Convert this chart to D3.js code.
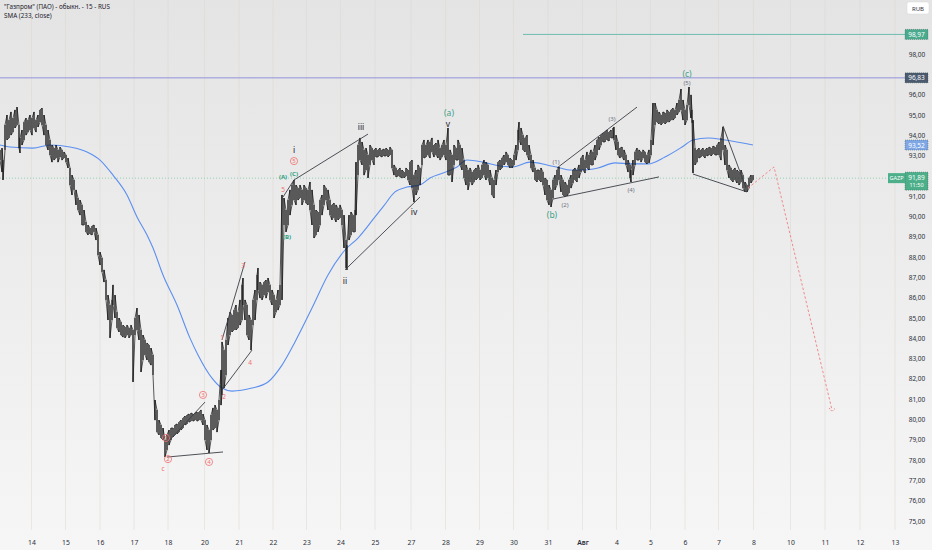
<!DOCTYPE html>
<html><head><meta charset="utf-8">
<script src="https://cdn.jsdelivr.net/npm/d3@7"></script>
<style>
html,body{margin:0;padding:0;overflow:hidden;background:#eeeeee}
svg{display:block;font-family:"Noto Sans",Roboto,"DejaVu Sans",sans-serif}
</style>
</head><body>
<svg id="chart" width="932" height="550"></svg>
<script>
// ---------- DATA ----------
const titleText = "\"Газпром\" (ПАО) - обыкн. - 15 - RUS";
const indicatorText = "SMA (233, close)";
const ticker = "GAZP";
const currency = "RUB";

// day session starts (15-min bar index) and their labels
const dayTicks  = [63,131,200,268,336,409,478,546,613,681,750,822,891,959,1027,1096,1165,1233,1301,1370,1437,1507,1581,1650,1720,1790];
const dayLabels = ["14","15","16","17","18","20","21","22","23","24","25","27","28","29","30","31","Авг","4","5","6","7","8","10","11","12","13"];
const priceTicks = [75,76,77,78,79,80,81,82,83,84,85,86,87,88,89,90,91,92,93,94,95,96,97,98,99,100];

// price bars: [bar index, high, low]
const priceBars = [
[0,93.28,92.78],[4,93.37,92.19],[6,92.78,91.80],[10,94.51,93.28],[14,95.00,93.77],[18,94.75,93.87],[22,95.15,94.01],[26,94.85,94.16],[30,95.25,94.36],[34,95.39,94.51],
[38,94.51,93.37],[40,93.87,93.13],[44,94.26,93.52],[48,94.65,93.77],[52,94.85,94.01],[56,94.75,94.16],[60,95.00,94.26],[64,94.85,94.01],[68,95.15,94.36],[72,94.75,94.16],
[76,95.00,94.41],[80,95.25,94.65],[84,95.34,94.51],[88,95.00,94.01],[92,94.51,93.52],[96,94.26,93.28],[100,93.77,93.03],[104,93.52,92.68],[108,93.37,92.78],[112,93.52,92.88],
[116,93.28,92.68],[120,93.42,92.93],[124,93.28,92.78],[128,93.18,92.88],[132,93.03,92.68],[136,92.88,92.39],[140,92.39,91.55],[144,92.04,91.06],[148,91.80,91.31],[152,91.31,90.57],
[156,90.91,90.32],[160,90.81,90.07],[164,90.57,89.58],[168,90.32,89.58],[172,89.73,89.24],[176,89.58,89.09],[180,89.43,89.14],[184,89.53,89.09],[188,89.58,89.24],[192,89.43,88.84],
[196,89.09,88.10],[200,88.25,87.61],[204,87.96,87.27],[208,87.37,86.77],[212,86.87,85.89],[216,86.13,84.90],[220,85.64,84.02],[224,85.89,84.90],[226,86.63,85.64],[230,86.13,85.00],
[234,85.29,84.51],[238,85.00,84.31],[242,84.80,84.16],[246,84.65,84.06],[250,84.56,84.02],[254,84.65,84.16],[258,84.51,84.02],[262,84.65,84.16],[266,84.41,81.85],[270,85.00,84.16],
[274,85.49,84.41],[278,85.15,83.92],[282,84.41,82.34],[286,84.16,82.93],[290,83.92,83.18],[294,83.77,82.93],[298,83.67,82.83],[302,83.52,82.68],[306,83.18,82.19],[310,80.96,79.97],
[314,80.47,79.38],[318,79.97,79.24],[322,79.73,79.09],[326,79.58,78.99],[330,78.99,78.15],[334,79.24,78.50],[338,79.48,78.74],[342,79.58,78.99],[346,79.58,79.14],[350,79.73,79.24],
[354,79.78,79.29],[358,79.87,79.38],[362,79.97,79.48],[366,80.07,79.58],[370,80.17,79.73],[374,80.22,79.78],[378,80.27,79.87],[382,80.32,79.92],[386,80.27,79.92],[390,80.32,79.97],
[394,80.37,79.92],[398,80.37,79.97],[402,80.47,79.97],[406,80.27,79.73],[410,79.97,78.99],[414,79.73,78.50],[418,79.48,78.35],[422,80.22,78.99],[426,80.57,79.48],[430,80.71,79.58],
[434,80.47,79.38],[438,80.96,79.97],[442,82.44,80.71],[444,83.82,81.21],[448,83.42,81.55],[452,83.92,82.19],[456,85.00,83.67],[460,85.29,84.16],[464,85.15,84.31],[468,85.39,84.41],
[472,85.64,84.41],[476,85.29,84.51],[480,85.89,84.65],[484,86.63,84.90],[486,86.97,85.64],[490,85.89,84.90],[494,85.64,84.16],[498,85.15,83.92],[502,84.90,83.42],[506,85.89,84.65],
[510,86.38,84.90],[514,87.12,85.89],[516,87.46,86.38],[520,86.77,85.98],[524,86.63,85.89],[528,86.77,86.13],[532,86.87,85.98],[536,86.97,86.28],[540,86.63,85.89],[544,86.38,85.64],
[548,86.13,85.00],[552,85.89,85.29],[556,86.38,85.39],[560,86.63,85.64],[564,91.06,85.89],[568,90.91,89.58],[572,90.32,89.24],[576,90.81,89.58],[580,91.31,90.07],[584,91.55,90.57],
[588,91.80,90.81],[592,91.55,90.57],[596,91.40,90.81],[600,91.55,90.91],[604,91.31,90.57],[608,91.55,90.81],[612,91.40,90.66],[616,91.31,90.57],[620,91.70,90.32],[624,91.31,89.58],
[628,90.57,88.94],[632,90.32,89.09],[636,90.22,89.24],[640,90.81,89.58],[644,91.06,90.07],[648,91.55,90.57],[652,91.40,90.81],[656,91.31,90.32],[660,90.81,90.07],[664,90.57,89.83],
[668,90.66,89.93],[672,90.57,89.73],[676,90.42,89.83],[680,90.57,89.93],[684,90.32,89.58],[688,90.07,88.45],[692,88.84,87.46],[694,88.60,87.37],[698,90.07,88.84],[702,90.22,89.09],
[706,90.07,89.24],[710,90.32,89.24],[712,92.68,90.07],[716,93.52,92.04],[720,93.87,92.78],[724,93.67,92.54],[728,93.28,92.04],[732,93.37,92.29],[736,93.03,91.90],[740,93.52,92.54],
[744,93.37,92.78],[748,93.28,92.54],[752,93.37,92.93],[756,93.28,92.93],[760,93.37,92.98],[764,93.28,92.93],[768,93.32,92.98],[772,93.37,92.98],[776,93.28,92.93],[780,93.42,93.03],
[784,93.28,92.39],[788,92.54,92.04],[792,92.39,91.95],[796,92.29,91.99],[800,92.39,91.95],[804,92.29,91.90],[808,92.19,91.90],[812,92.39,91.99],[816,92.29,91.80],[820,92.68,91.55],
[824,92.78,91.40],[828,92.04,90.71],[832,92.29,91.06],[836,92.54,91.31],[840,92.39,91.55],[844,93.52,92.54],[848,93.77,92.88],[852,93.52,92.93],[856,93.77,93.03],[860,93.67,92.88],
[864,93.87,93.18],[868,93.52,92.93],[872,93.62,93.03],[876,93.77,92.88],[880,93.37,92.78],[884,93.52,92.93],[888,93.77,93.03],[892,93.52,92.78],[896,94.36,92.04],[900,93.28,92.04],
[904,93.03,91.70],[908,93.52,92.54],[912,93.37,92.78],[916,93.77,92.78],[920,93.52,92.54],[924,93.37,92.29],[928,92.78,91.90],[932,92.54,91.55],[936,92.29,91.31],[940,92.39,91.70],
[944,92.19,91.55],[948,92.29,91.70],[952,92.39,91.80],[956,92.54,91.90],[960,92.29,91.80],[964,92.54,91.90],[968,92.78,92.04],[972,92.68,91.80],[976,92.54,91.90],[980,92.29,91.55],
[984,91.90,91.06],[988,91.80,90.91],[992,92.29,91.55],[996,92.68,92.19],[1000,92.78,92.29],[1004,92.88,92.39],[1008,93.03,92.54],[1012,93.18,92.68],[1016,93.03,92.54],[1020,92.88,92.39],
[1024,92.78,92.39],[1028,93.03,92.54],[1032,93.52,92.78],[1036,94.26,93.28],[1038,94.65,93.77],[1042,94.36,93.52],[1046,94.01,93.28],[1050,93.87,93.18],[1054,94.01,93.03],[1058,93.52,92.78],
[1062,93.03,92.39],[1066,92.78,92.19],[1070,92.39,91.80],[1074,92.29,91.70],[1078,92.29,91.80],[1082,92.39,91.70],[1086,92.19,91.55],[1090,91.90,91.06],[1094,91.80,90.81],[1098,91.55,90.57],
[1102,91.31,90.47],[1106,91.80,90.91],[1110,92.04,91.31],[1114,92.29,91.55],[1118,92.44,91.80],[1122,92.04,91.21],[1126,91.80,91.06],[1130,91.70,90.96],[1134,91.55,91.01],[1138,91.80,91.16],
[1142,92.04,91.40],[1146,92.29,91.65],[1150,92.39,91.80],[1154,92.29,91.70],[1158,92.54,91.90],[1162,92.88,92.19],[1166,93.03,92.29],[1170,92.78,92.14],[1174,93.18,92.39],[1178,93.03,92.29],
[1182,93.28,92.54],[1186,93.18,92.54],[1190,93.52,92.78],[1194,93.77,93.03],[1198,93.91,93.28],[1202,94.01,93.52],[1206,94.11,93.67],[1210,94.16,93.67],[1214,94.26,93.77],[1218,94.16,93.72],
[1222,94.26,93.87],[1226,94.36,93.87],[1228,94.41,93.77],[1232,94.01,93.28],[1236,93.67,93.03],[1240,93.37,92.88],[1244,93.42,92.93],[1248,93.28,92.78],[1252,93.03,92.54],[1256,92.78,92.19],
[1260,92.54,91.90],[1262,92.29,91.70],[1266,92.78,92.04],[1270,93.18,92.54],[1274,93.37,92.78],[1278,93.28,92.78],[1282,93.18,92.68],[1286,93.28,92.88],[1290,93.18,92.68],[1294,93.03,92.59],
[1298,93.28,92.64],[1302,93.77,93.03],[1306,95.59,93.52],[1310,95.59,94.51],[1314,95.25,94.65],[1318,95.15,94.56],[1322,95.00,94.51],[1326,95.15,94.61],[1330,95.10,94.56],[1334,95.25,94.65],
[1338,95.15,94.65],[1342,95.25,94.75],[1346,95.34,94.75],[1350,95.25,94.85],[1354,95.59,95.00],[1358,95.74,95.15],[1362,96.28,95.25],[1366,95.74,94.75],[1370,95.25,94.51],[1374,95.49,94.75],
[1378,96.38,95.49],[1382,95.99,94.85],[1384,95.25,94.61],[1386,94.75,92.14],[1390,93.37,92.54],[1394,93.28,92.68],[1398,93.37,92.88],[1402,93.28,92.93],[1406,93.37,92.98],[1410,93.28,92.88],
[1414,93.37,92.98],[1418,93.42,93.03],[1422,93.37,92.98],[1426,93.47,93.08],[1430,93.42,93.03],[1434,93.52,93.03],[1438,93.67,93.03],[1442,93.87,92.78],[1446,94.41,93.28],[1450,93.52,92.54],
[1454,93.28,92.29],[1458,92.54,91.90],[1462,92.39,91.80],[1466,92.29,91.70],[1470,92.39,91.80],[1474,92.29,91.65],[1478,92.19,91.55],[1482,92.29,91.70],[1486,92.04,91.40],[1490,91.70,91.21],
[1494,91.55,91.21],[1498,91.90,91.40],[1502,92.04,91.65],[1506,92.04,91.80]
];

// SMA (233, close)
const smaBars   = [0,20,66,100,140,174,200,226,254,274,294,306,326,354,380,396,424,444,464,504,536,564,590,624,656,690,716,750,766,790,814,840,860,886,914,934,966,1000,1026,1060,1094,1120,1140,1164,1196,1230,1264,1296,1330,1364,1386,1416,1450,1506];
const smaValues = [93.52,93.42,93.37,93.52,93.42,93.18,92.78,92.04,91.06,89.98,89.09,88.45,87.12,85.64,84.01,83.18,82.04,81.55,81.40,81.55,81.85,82.68,83.82,85.49,87.12,88.35,88.94,89.98,90.47,91.21,91.45,91.55,91.90,92.14,92.44,92.78,92.68,92.49,92.44,92.68,92.54,92.39,92.29,92.29,92.39,92.64,92.59,92.59,92.93,93.42,93.77,93.87,93.77,93.52];

const lastPrice = 91.89;
const lastSma = 93.52;
const countdown = "11:50";
const levelPrices = [98.97, 96.83];
const levelStartBars = [1046, 0];

// wave drawing lines: [[bar, price], [bar, price]]
const waveLines = [
 [[334,78.15],[446,78.40]],
 [[336,78.89],[410,80.86]],
 [[444,83.92],[490,87.76]],
 [[444,81.45],[504,83.42]],
 [[566,90.96],[588,91.80]],
 [[588,91.80],[736,94.06]],
 [[690,87.37],[840,90.96]],
 [[1114,92.39],[1274,95.39]],
 [[1106,90.86],[1318,91.95]],
 [[1386,92.09],[1494,91.21]],
 [[1446,94.46],[1492,91.40]]
];
const projectionPath = [[1496,91.40],[1548,92.44],[1664,80.47]];

// wave labels
const labelText   = ["c","1","2","3","4","1","2","3","4","5","(A)","(B)","(C)","5","i","ii","iii","iv","v","(a)","(b)","(1)","(2)","(3)","(4)","(5)","(c)"];
const labelKind   = ["red","circ","circ","circ","circ","red","red","red","red","red","green","green","green","circ","roman","roman","roman","roman","roman","teal","teal","gray","gray","gray","gray","gray","teal"];
const labelBars   = [326,332,336,406,418,444,448,486,500,566,566,574,588,588,588,690,722,828,896,898,1104,1112,1130,1224,1262,1374,1374];
const labelPrices = [77.61,79.09,78.05,81.21,77.91,84.02,81.11,87.61,82.83,91.32,91.95,88.99,92.09,92.73,93.28,86.87,94.41,90.27,94.56,95.12,90.12,92.68,90.57,94.80,91.31,96.58,97.02];

// ---------- DRAW ----------
const W = 932, H = 550, plotR = 905, plotB = 530;
const svg = d3.select("#chart");
const x = d3.scaleLinear().domain([0, 1810]).range([0, plotR]);
const y = d3.scaleLinear().domain([75, 100]).range([521, 13.5]);
const fmt = v => v.toFixed(2).replace(".", ",");

const defs = svg.append("defs");
const grad = defs.append("linearGradient").attr("id","bg").attr("x1",0).attr("y1",0).attr("x2",0).attr("y2",1);
grad.append("stop").attr("offset","0%").attr("stop-color","#e4e4e4");
grad.append("stop").attr("offset","100%").attr("stop-color","#f6f6f6");
svg.append("rect").attr("width",W).attr("height",H).attr("fill","url(#bg)");
defs.append("clipPath").attr("id","plot").append("rect").attr("width",plotR).attr("height",plotB);

const plot = svg.append("g").attr("clip-path","url(#plot)");

// vertical grid
plot.selectAll(".vg").data(dayTicks).join("line")
  .attr("x1",d=>x(d)).attr("x2",d=>x(d)).attr("y1",0).attr("y2",plotB)
  .attr("stroke","#ddd8cf").attr("stroke-width",0.8).attr("opacity",0.6);

// horizontal levels
const levelColors = ["#6dbcae","#9590dc"];
levelPrices.forEach((p,i)=>{
  plot.append("line").attr("x1",x(levelStartBars[i])).attr("x2",plotR)
    .attr("y1",y(p)).attr("y2",y(p)).attr("stroke",levelColors[i]).attr("stroke-width",1);
});
// last price dotted line
plot.append("line").attr("x1",0).attr("x2",plotR).attr("y1",y(lastPrice)).attr("y2",y(lastPrice))
  .attr("stroke","#7ccaa6").attr("stroke-width",0.8).attr("stroke-dasharray","1,2");

// SMA
plot.append("path").datum(smaBars.map((b,i)=>[b,smaValues[i]]))
  .attr("d", d3.line().x(d=>x(d[0])).y(d=>y(d[1])).curve(d3.curveMonotoneX))
  .attr("fill","none").attr("stroke","#5b8ff0").attr("stroke-width",1.1);

// price bars (high-low) with zigzag linking consecutive bars
plot.selectAll(".bar").data(priceBars).join("line")
  .attr("x1",d=>x(d[0])).attr("x2",d=>x(d[0]))
  .attr("y1",d=>y(d[1])).attr("y2",d=>y(d[2]))
  .attr("stroke","#141414").attr("stroke-width",1);
const zz = [];
priceBars.forEach((d,i)=>{ if(i%2===0){zz.push([d[0],d[1]]);zz.push([d[0],d[2]]);} else {zz.push([d[0],d[2]]);zz.push([d[0],d[1]]);} });
plot.append("path").datum(zz)
  .attr("d", d3.line().x(d=>x(d[0])).y(d=>y(d[1])))
  .attr("fill","none").attr("stroke","#141414").attr("stroke-width",0.7);

// wave lines
plot.selectAll(".wl").data(waveLines).join("line")
  .attr("x1",d=>x(d[0][0])).attr("y1",d=>y(d[0][1]))
  .attr("x2",d=>x(d[1][0])).attr("y2",d=>y(d[1][1]))
  .attr("stroke","#3a3d45").attr("stroke-width",0.9);

// projection
plot.append("path").datum(projectionPath)
  .attr("d", d3.line().x(d=>x(d[0])).y(d=>y(d[1])))
  .attr("fill","none").attr("stroke","#f08a8a").attr("stroke-width",1).attr("stroke-dasharray","2.5,2");
{
  const e = projectionPath[projectionPath.length-1];
  const ex = x(e[0]), ey = y(e[1]);
  plot.append("path").attr("d",`M${ex-3},${ey-2}L${ex},${ey+1.5}L${ex+3},${ey-1.5}`)
    .attr("fill","none").attr("stroke","#f08a8a").attr("stroke-width",1).attr("stroke-dasharray","1.5,1");
}

// labels
const styles = {
  red:   {fill:"#f07070", size:6.5, weight:400},
  circ:  {fill:"#f07070", size:6,   weight:400},
  green: {fill:"#2f9e7c", size:6,   weight:700},
  teal:  {fill:"#3fa08a", size:8.5, weight:400},
  gray:  {fill:"#6e7282", size:6,   weight:400},
  roman: {fill:"#1e222d", size:8.5, weight:400}
};
labelText.forEach((t,i)=>{
  const st = styles[labelKind[i]];
  const lx = x(labelBars[i]), ly = y(labelPrices[i]);
  if(labelKind[i]==="circ"){
    plot.append("circle").attr("cx",lx).attr("cy",ly).attr("r",3.6)
      .attr("fill","none").attr("stroke",st.fill).attr("stroke-width",0.8);
  }
  plot.append("text").attr("x",lx).attr("y",ly).attr("text-anchor","middle")
    .attr("dominant-baseline","central").attr("font-size",st.size).attr("font-weight",st.weight)
    .attr("fill",st.fill).text(t);
});

// price scale — tick labels hidden under a price box are left out
const boxPrices = [levelPrices[0], levelPrices[1], lastSma, lastPrice];
const visibleTicks = priceTicks.filter(t => t < 100 && boxPrices.every(b => Math.abs(y(t)-y(b)) > 7.5));

const yAxis = svg.append("g").attr("transform",`translate(${plotR},0)`)
  .call(d3.axisRight(y).tickValues(visibleTicks).tickSize(0).tickPadding(0).tickFormat(fmt));
yAxis.select(".domain").remove();
yAxis.selectAll("text").attr("x",12).attr("text-anchor","middle")
  .attr("font-size",6.5).attr("fill","#2a2e39").attr("font-family",'"Noto Sans",Roboto,sans-serif');

const xAxis = svg.append("g").attr("transform",`translate(0,${plotB+10})`)
  .call(d3.axisBottom(x).tickValues(dayTicks).tickSize(0).tickPadding(0).tickFormat((d,i)=>dayLabels[i]));
xAxis.select(".domain").remove();
xAxis.selectAll("text").attr("font-size",6.8).attr("fill","#2a2e39")
  .attr("font-family",'"Noto Sans",Roboto,sans-serif')
  .attr("font-weight",(d,i)=>dayLabels[i]==="Авг"?600:400);

// title
svg.append("text").attr("x",4).attr("y",9).attr("font-size",6.3).attr("fill","#1e222d").text(titleText);
svg.append("text").attr("x",4).attr("y",18).attr("font-size",6.3).attr("fill","#1e222d").text(indicatorText);

// currency button
svg.append("rect").attr("x",907).attr("y",2).attr("width",22).attr("height",12).attr("rx",2)
  .attr("fill","#ffffff").attr("stroke","#d8d8d8").attr("stroke-width",0.5);
svg.append("text").attr("x",918).attr("y",8.5).attr("text-anchor","middle").attr("dominant-baseline","central")
  .attr("font-size",6).attr("fill","#2a2e39").text(currency);

function priceBox(p, fill, h){
  const cy = y(p);
  svg.append("rect").attr("x",905).attr("y",cy-h/2).attr("width",23).attr("height",h)
    .attr("fill",fill).attr("stroke","#2d4a40").attr("stroke-width",0.4).attr("stroke-dasharray","1,1");
  svg.append("text").attr("x",916.5).attr("y",cy).attr("text-anchor","middle").attr("dominant-baseline","central")
    .attr("font-size",6.5).attr("fill","#fff").text(fmt(p));
}
priceBox(levelPrices[0], "#4aaa8e", 10);
priceBox(levelPrices[1], "#4b5a6e", 10);
priceBox(lastSma, "#7fa7e6", 10);
{
  const ly = y(lastPrice);
  svg.append("rect").attr("x",905).attr("y",ly-6).attr("width",23).attr("height",18)
    .attr("fill","#4caf8a").attr("stroke","#2d4a40").attr("stroke-width",0.4).attr("stroke-dasharray","1,1");
  svg.append("text").attr("x",916.5).attr("y",ly-0.5).attr("text-anchor","middle").attr("dominant-baseline","central")
    .attr("font-size",6.5).attr("fill","#fff").text(fmt(lastPrice));
  svg.append("text").attr("x",916.5).attr("y",ly+7).attr("text-anchor","middle").attr("dominant-baseline","central")
    .attr("font-size",5.5).attr("fill","#fff").text(countdown);
  svg.append("rect").attr("x",888).attr("y",ly-5).attr("width",17).attr("height",10)
    .attr("fill","#4caf8a");
  svg.append("text").attr("x",896.5).attr("y",ly).attr("text-anchor","middle").attr("dominant-baseline","central")
    .attr("font-size",5.5).attr("fill","#fff").text(ticker);
}
</script>
</body></html>
